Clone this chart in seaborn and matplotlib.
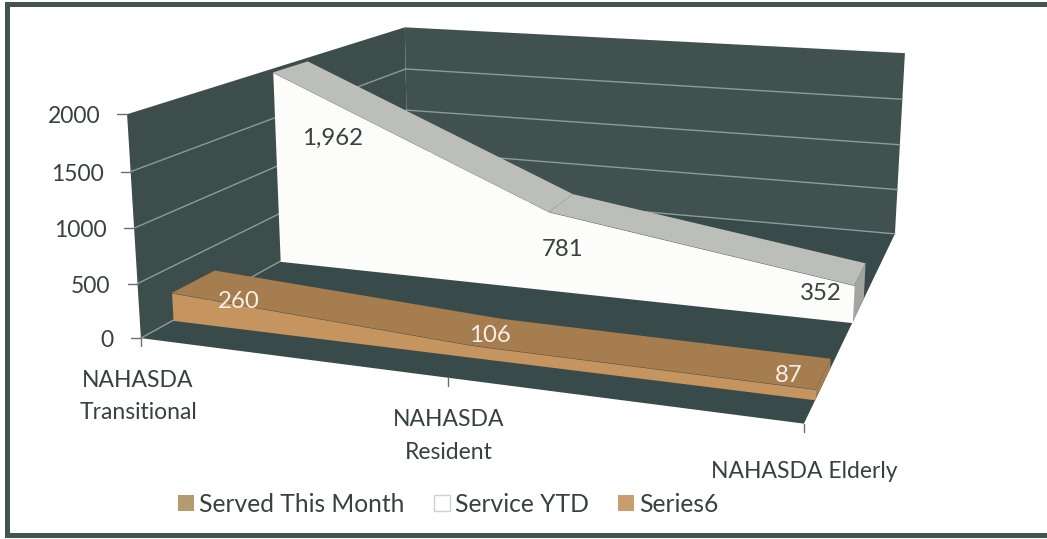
import numpy as np
import matplotlib
matplotlib.use("Agg")
import matplotlib.pyplot as plt
from matplotlib.patches import Patch, Rectangle
from matplotlib.transforms import Transform
import seaborn as sns

categories = ["NAHASDA\nTransitional", "NAHASDA\nResident", "NAHASDA Elderly"]
service_ytd = [1962, 781, 352]
series6 = [260, 106, 87]
legend_names = ["Served This Month", "Service YTD", "Series6"]
value_ticks = [0, 500, 1000, 1500, 2000]
value_labels = ["0", "500", "1000", "1500", "2000"]
ytd_labels = ["1,962", "781", "352"]
s6_labels = ["260", "106", "87"]

VMAX = 2000.0
NCAT = len(categories) - 1

# camera calibration for the chart box: (x, value, depth) -> figure pixel
box_3d = np.array([[0, 0, 0], [0, 1, 0], [0, 1, 1], [0, 0, 1], [1, 1, 1], [1, 0, 1],
                   [1, 0, 0], [.5, 0, 0], [0, .5, 0], [1, .5, 1], [0, .5, 1]], float)
box_px = np.array([[141, 337], [127, 114], [405, 28], [408, 191], [905, 53], [895, 233],
                   [803, 423], [449, 381], [134, 227], [900, 145], [406, 110]], float)
rows = []
for (a, b, c), (u, w) in zip(box_3d, box_px):
    rows.append([a, b, c, 1, 0, 0, 0, 0, -u*a, -u*b, -u*c, -u])
    rows.append([0, 0, 0, 0, a, b, c, 1, -w*a, -w*b, -w*c, -w])
P = np.linalg.svd(np.array(rows))[2][-1].reshape(3, 4)


def project(x, v, z):
    x, v, z = np.broadcast_arrays(np.asarray(x, float) / NCAT, np.asarray(v, float) / VMAX, z)
    h = P @ np.vstack([x.ravel(), v.ravel(), z.ravel(), np.ones(x.size)])
    return h[0] / h[2], h[1] / h[2]


class DepthPlane(Transform):
    """(category position, value) on the plane at a given depth -> pixels."""
    input_dims = output_dims = 2
    is_affine = False
    has_inverse = False

    def __init__(self, plane_depth):
        super().__init__()
        self.plane_depth = plane_depth

    def transform_non_affine(self, values):
        values = np.asarray(values, float)
        return np.column_stack(project(values[:, 0], values[:, 1], self.plane_depth))


class SidePlane(DepthPlane):
    """(depth, value) on the left wall -> pixels."""

    def transform_non_affine(self, values):
        values = np.asarray(values, float)
        return np.column_stack(project(0 * values[:, 0], values[:, 1], values[:, 0]))


sns.set_theme(style="white")
plt.rcParams["font.family"] = ["Lato", "DejaVu Sans"]
INK = "#37423f"
WALL = "#41514f"
LEFT = "#3d4d4b"
FLOOR = "#394a4b"
GRID = "#8b9b9b"
FS = 16.5

fig = plt.figure(figsize=(10.47, 5.39), dpi=100, facecolor="white")
ax = fig.add_axes([0, 0, 1, 1])
ax.set_axis_off()
ax.set_xlim(0, 1047)
ax.set_ylim(539, 0)


def quad(pts, color, zorder):
    xs_, ys_ = zip(*[project(*p) for p in pts])
    ax.fill(np.ravel(xs_), np.ravel(ys_), color=color, lw=0, zorder=zorder)


xs = np.arange(len(categories))
# walls and floor
quad([(0, 0, 0), (0, VMAX, 0), (0, VMAX, 1), (0, 0, 1)], LEFT, 1)
quad([(0, 0, 1), (0, VMAX, 1), (NCAT, VMAX, 1), (NCAT, 0, 1)], WALL, 1)
quad([(0, 0, 0), (NCAT, 0, 0), (NCAT, 0, 1), (0, 0, 1)], FLOOR, 1)

# gridlines
for v in value_ticks[:-1]:
    sns.lineplot(x=[0, NCAT], y=[v, v], ax=ax, color=GRID, lw=1, sort=False, estimator=None,
                 transform=DepthPlane(1.0) + ax.transData, zorder=2, legend=False)
    sns.lineplot(x=[0, 1], y=[v, v], ax=ax, color=GRID, lw=1, sort=False, estimator=None,
                 transform=SidePlane(0) + ax.transData, zorder=2, legend=False)


def area(values, z0, z1, top, side, front, zorder):
    for i in range(NCAT):
        quad([(i, values[i], z0), (i + 1, values[i + 1], z0),
              (i + 1, values[i + 1], z1), (i, values[i], z1)], top, zorder)
    quad([(NCAT, 0, z0), (NCAT, values[-1], z0), (NCAT, values[-1], z1), (NCAT, 0, z1)], side, zorder)
    ax.fill_between(xs, 0, values, color=front, lw=0, zorder=zorder + 0.5,
                    transform=DepthPlane(z0) + ax.transData)


area(service_ytd, 0.44, 0.57, "#bcbeb9", "#a3a5a2", "#fcfcfa", 3)
area(series6, 0.09, 0.22, "#a67d4f", "#a67d4f", "#c6955f", 5)

# value axis
for v, lab in zip(value_ticks, value_labels):
    px, py = project(0, v, 0)
    ax.plot([px[0] - 10, px[0]], [py[0], py[0]], color="#66706e", lw=1, zorder=6)
    ax.text(px[0] - 27, py[0] + 2.5, lab, ha="right", va="center", fontsize=FS, color=INK)

# category axis
for i in xs:
    px, py = project(i, 0, 0)
    ax.plot([px[0], px[0]], [py[0], py[0] + 8], color="#66706e", lw=1, zorder=6)
for lab, (cx, cy) in zip(categories, [(138, 396.5), (449, 436), (804, 472)]):
    ax.text(cx, cy, lab, ha="center", va="center", fontsize=FS, color=INK, linespacing=1.65)

# data labels
for lab, (cx, cy) in zip(ytd_labels, [(333, 138), (563, 250), (821, 294)]):
    ax.text(cx, cy, lab, ha="center", va="center", fontsize=17.3, color=INK, zorder=8)
for lab, (cx, cy) in zip(s6_labels, [(239, 301), (490, 336), (789, 376)]):
    ax.text(cx, cy, lab, ha="center", va="center", fontsize=17.3, color="#f6efe6", zorder=8)

# legend
handles = [Patch(facecolor="#b59b70", edgecolor="none", label=legend_names[0]),
           Patch(facecolor="#ffffff", edgecolor="#c9d2d6", label=legend_names[1]),
           Patch(facecolor="#c99d6f", edgecolor="none", label=legend_names[2])]
ax.legend(handles=handles, ncol=3, loc="center", bbox_to_anchor=(448, 504), bbox_transform=ax.transData,
          frameon=False, fontsize=17.7, labelcolor=INK, handlelength=0.65, handleheight=0.65,
          handletextpad=0.2, columnspacing=1.2, borderpad=0)

# scanned frame (left, top, bottom)
FRAME = "#43544f"
ax.add_patch(Rectangle((5, 2), 5, 536, color=FRAME, lw=0, zorder=9))
ax.add_patch(Rectangle((5, 2), 1042, 5, color=FRAME, lw=0, zorder=9))
ax.add_patch(Rectangle((5, 533), 1042, 5, color=FRAME, lw=0, zorder=9))

ax.set_xlim(0, 1047)
ax.set_ylim(539, 0)
ax.set_xlabel("")
ax.set_ylabel("")
fig.savefig("out.png", dpi=100, facecolor="white")
